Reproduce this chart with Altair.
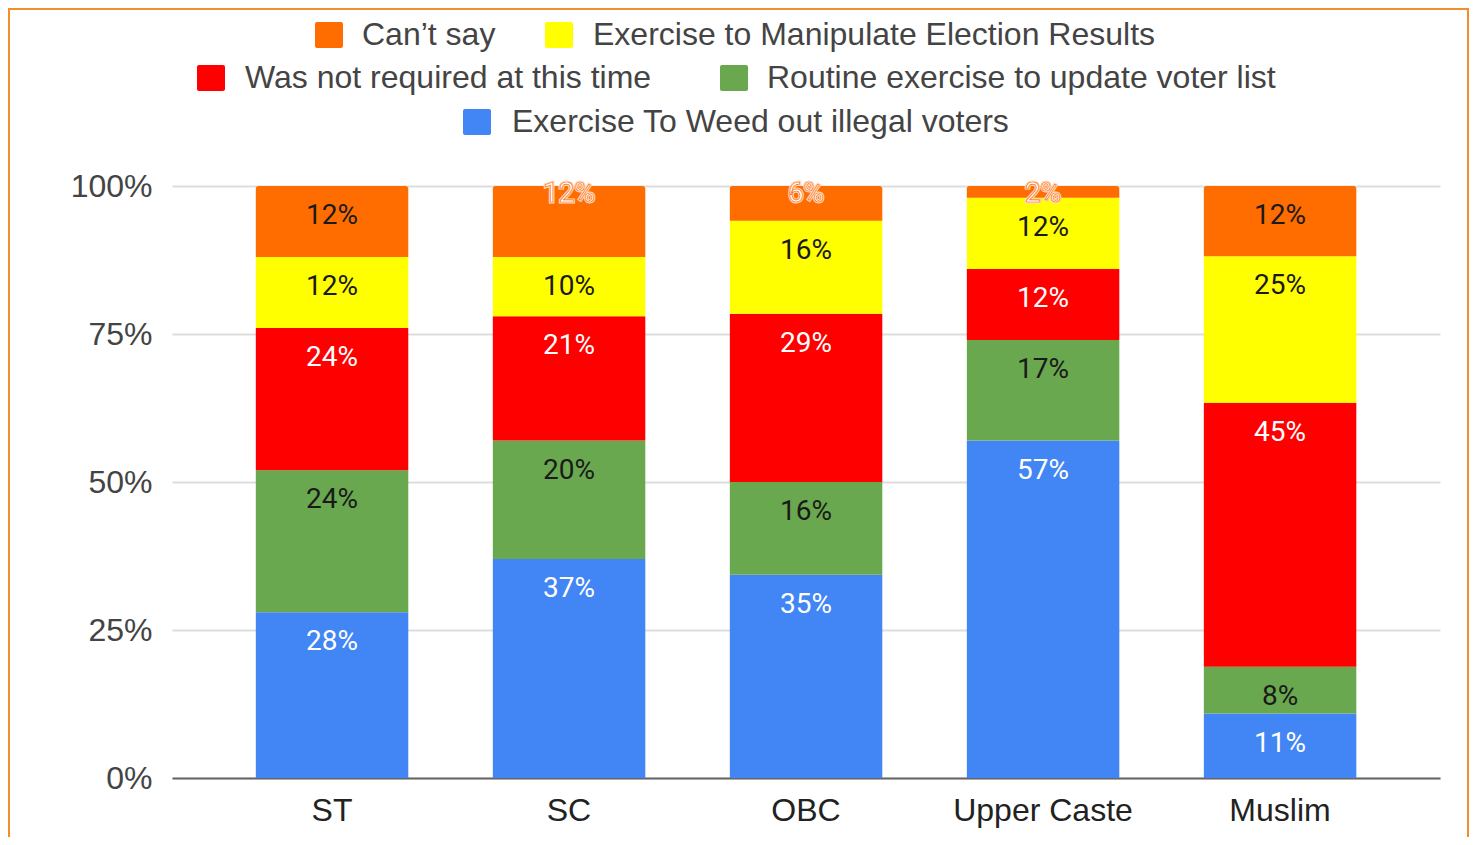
import altair as alt
import pandas as pd

categories = ["ST", "SC", "OBC", "Upper Caste", "Muslim"]
series = [
    "Exercise To Weed out illegal voters",
    "Routine exercise to update voter list",
    "Was not required at this time",
    "Exercise to Manipulate Election Results",
    "Can\u2019t say",
]
weed = [28, 37, 35, 57, 11]
routine = [24, 20, 16, 17, 8]
not_required = [24, 21, 29, 12, 45]
manipulate = [12, 10, 16, 12, 25]
cant_say = [12, 12, 6, 2, 12]

colors = ["#4285F4", "#6AA84F", "#FF0000", "#FFFF00", "#FF6D01"]
light_text_series = {0, 2}
outlined = {("SC", 4), ("OBC", 4), ("Upper Caste", 4)}
FONT = "Arial, Liberation Sans, Helvetica, sans-serif"

rows = []
for si, vals in enumerate([weed, routine, not_required, manipulate, cant_say]):
    for ci, cat in enumerate(categories):
        if (cat, si) in outlined:
            kind = "outline"
        elif si in light_text_series:
            kind = "light"
        else:
            kind = "dark"
        rows.append({"category": cat, "series": series[si], "order": si,
                     "value": vals[ci], "kind": kind})
df = pd.DataFrame(rows)

color_scale = alt.Scale(domain=series, range=colors)
x_scale = alt.Scale(domain=categories, paddingInner=0.354, paddingOuter=0.352)
y_scale = alt.Scale(domain=[0, 1], nice=False)

x_axis = alt.Axis(labelAngle=0, labelFont=FONT, labelFontSize=32,
                  labelColor="#222222", labelPadding=17, ticks=False,
                  domainColor="#666666", domainWidth=2)
y_axis = alt.Axis(values=[0, 0.25, 0.5, 0.75, 1], format=".0%",
                  labelFont=FONT, labelFontSize=32,
                  labelColor="#444444", labelPadding=20, ticks=False,
                  domain=False, grid=True, gridColor="#dddddd", gridWidth=2)

bars = alt.Chart(df).mark_bar(cornerRadiusEnd=3).encode(
    x=alt.X("category:N", sort=categories, scale=x_scale, title=None, axis=x_axis),
    y=alt.Y("value:Q", stack="normalize", scale=y_scale, title=None, axis=y_axis),
    color=alt.Color("series:N", scale=color_scale, legend=None),
    order=alt.Order("order:Q", sort="ascending"),
)

text_base = alt.Chart(df).transform_stack(
    stack="value", groupby=["category"],
    sort=[alt.SortField("order", order="ascending")],
    offset="normalize", as_=["y0", "y1"],
).transform_calculate(label="datum.value + '%'")

def text_layer(kind, dy, **kw):
    return text_base.transform_filter(alt.datum.kind == kind).mark_text(
        dy=dy, baseline="middle", align="center", font="Roboto", fontSize=28, **kw
    ).encode(
        x=alt.X("category:N", sort=categories, scale=x_scale, title=None, axis=x_axis),
        y=alt.Y("y1:Q", scale=y_scale, title=None, axis=y_axis),
        text="label:N",
    )

t_light = text_layer("light", 30, fill="#ffffff")
t_dark = text_layer("dark", 30, fill="#1a1a1a")
t_halo = text_layer("outline", 8, fill="#ffffff", stroke="#ffd9bf", strokeWidth=3)
t_outline = text_layer("outline", 8, fill="#ffffff", stroke="#FF6D01", strokeWidth=0.7)

main = alt.layer(bars, t_light, t_dark, t_halo, t_outline)

# legend layout (pixel positions relative to plot origin)
legend_layout = {
    series[4]: (143, -151, 190),
    series[3]: (373, -151, 421),
    series[2]: (25, -108, 73),
    series[1]: (548, -108, 595),
    series[0]: (291, -64, 340),
}
leg_rows = []
for s in series:
    sx, ly, tx = legend_layout[s]
    leg_rows.append({"series": s, "sx": sx, "sx2": sx + 28, "sy": ly - 13,
                     "sy2": ly + 13, "ty": ly, "tx": tx})
leg_df = pd.DataFrame(leg_rows)

leg_sq = alt.Chart(leg_df).mark_rect(cornerRadius=2).encode(
    x=alt.X("sx:Q", scale=None, axis=None),
    x2="sx2:Q",
    y=alt.Y("sy:Q", scale=None, axis=None),
    y2="sy2:Q",
    color=alt.Color("series:N", scale=color_scale, legend=None),
)
leg_tx = alt.Chart(leg_df).mark_text(
    align="left", baseline="middle", font=FONT, fontSize=32, fill="#444444"
).encode(
    x=alt.X("tx:Q", scale=None, axis=None),
    y=alt.Y("ty:Q", scale=None, axis=None),
    text="series:N",
)

border = alt.Chart(alt.Data(values=[{}])).mark_rect(
    fillOpacity=0, stroke="#F0902C", strokeWidth=2
).encode(
    x=alt.value(-163), x2=alt.value(1296), y=alt.value(-177), y2=alt.value(700)
)

chart = alt.layer(main, leg_sq, leg_tx, border).resolve_scale(
    x="independent", y="independent", color="shared"
).properties(
    width=1268, height=592,
    autosize=alt.AutoSizeParams(type="none"),
    padding={"left": 164, "top": 178, "right": 30, "bottom": 59},
).configure_view(stroke=None)

chart.save("out.html", embed_options={"renderer": "svg", "actions": False})
